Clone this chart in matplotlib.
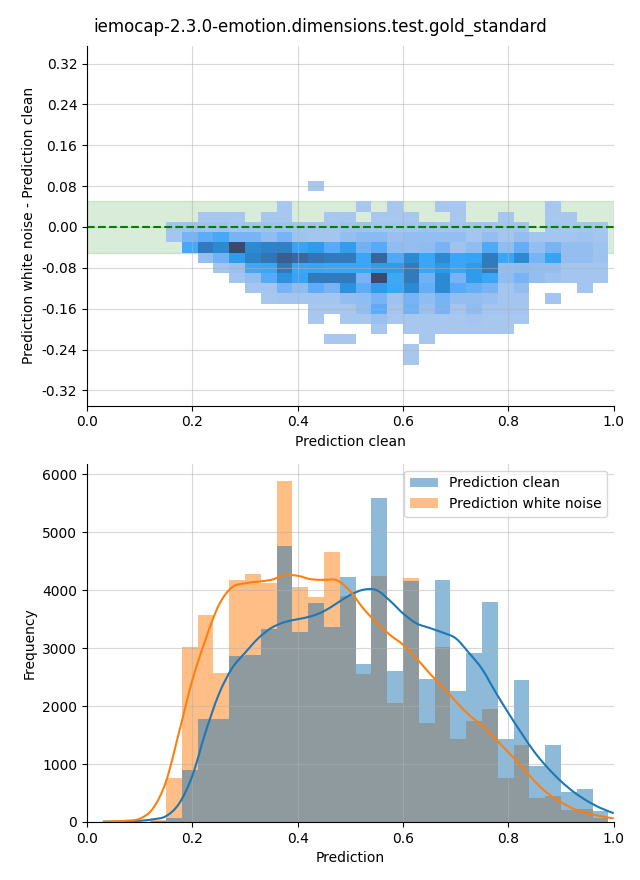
import numpy as np
import matplotlib
matplotlib.use("Agg")
import matplotlib.pyplot as plt
from matplotlib.colors import LinearSegmentedColormap
from matplotlib.path import Path
from matplotlib.patches import PathPatch

title = "iemocap-2.3.0-emotion.dimensions.test.gold_standard"

# ---- top: 2d histogram of (clean, white noise - clean) ----
# bins: x 0.15..0.99 step 0.03, y -0.27..0.09 step 0.02
x_edges = [round(0.15 + 0.03 * i, 2) for i in range(29)]
y_edges = [round(-0.27 + 0.02 * i, 2) for i in range(19)]

# counts (relative), rows from top (0.07..0.09) to bottom (-0.27..-0.25)
diff_counts = [
    [0, 0, 0, 0, 0, 0, 0, 0, 0, 2, 0, 0, 0, 0, 0, 0, 0, 0, 0, 0, 0, 0, 0, 0, 0, 0, 0, 0],
    [0, 0, 0, 0, 0, 0, 0, 0, 0, 0, 0, 0, 0, 0, 0, 0, 0, 0, 0, 0, 0, 0, 0, 0, 0, 0, 0, 0],
    [0, 0, 0, 0, 0, 0, 0, 2, 0, 0, 0, 0, 2, 0, 2, 0, 0, 2, 2, 0, 0, 0, 0, 0, 2, 0, 0, 0],
    [0, 0, 2, 2, 2, 0, 2, 2, 0, 0, 2, 2, 0, 2, 2, 2, 0, 0, 2, 0, 0, 2, 0, 0, 2, 2, 0, 0],
    [4, 6, 6, 6, 4, 4, 6, 6, 4, 4, 4, 6, 6, 4, 4, 4, 6, 4, 4, 4, 4, 4, 4, 0, 4, 2, 4, 2],
    [4, 20, 28, 34, 20, 20, 12, 20, 6, 4, 4, 10, 14, 14, 8, 10, 10, 10, 10, 4, 10, 4, 10, 4, 4, 4, 6, 4],
    [0, 34, 66, 55, 100, 55, 60, 62, 40, 45, 30, 44, 22, 30, 12, 10, 12, 20, 6, 12, 32, 12, 26, 10, 20, 10, 10, 6],
    [0, 0, 10, 22, 45, 60, 70, 85, 78, 70, 66, 66, 38, 80, 32, 55, 38, 55, 38, 40, 66, 38, 55, 20, 40, 10, 10, 6],
    [0, 0, 0, 4, 8, 36, 38, 68, 38, 40, 38, 38, 38, 45, 45, 66, 38, 47, 38, 45, 66, 10, 12, 10, 10, 4, 4, 4],
    [0, 0, 0, 0, 4, 10, 30, 50, 40, 66, 66, 66, 20, 100, 36, 66, 22, 55, 20, 45, 38, 12, 20, 10, 6, 4, 4, 4],
    [0, 0, 0, 0, 0, 4, 4, 20, 12, 28, 20, 50, 28, 45, 38, 55, 26, 55, 30, 25, 20, 4, 10, 0, 0, 0, 4, 0],
    [0, 0, 0, 0, 0, 0, 2, 4, 4, 4, 4, 10, 12, 20, 6, 20, 12, 20, 10, 10, 8, 4, 4, 0, 4, 0, 0, 0],
    [0, 0, 0, 0, 0, 0, 0, 0, 0, 2, 2, 2, 10, 28, 4, 22, 8, 20, 4, 12, 4, 4, 4, 0, 0, 0, 0, 0],
    [0, 0, 0, 0, 0, 0, 0, 0, 0, 2, 0, 2, 2, 8, 2, 2, 2, 2, 2, 4, 2, 2, 2, 0, 0, 0, 0, 0],
    [0, 0, 0, 0, 0, 0, 0, 0, 0, 0, 0, 0, 0, 2, 0, 2, 2, 2, 2, 2, 2, 2, 0, 0, 0, 0, 0, 0],
    [0, 0, 0, 0, 0, 0, 0, 0, 0, 0, 2, 2, 0, 0, 0, 0, 2, 0, 0, 0, 0, 0, 0, 0, 0, 0, 0, 0],
    [0, 0, 0, 0, 0, 0, 0, 0, 0, 0, 0, 0, 0, 0, 0, 2, 0, 0, 0, 0, 0, 0, 0, 0, 0, 0, 0, 0],
    [0, 0, 0, 0, 0, 0, 0, 0, 0, 0, 0, 0, 0, 0, 0, 2, 0, 0, 0, 0, 0, 0, 0, 0, 0, 0, 0, 0],
]
y_ticks = [-0.32, -0.24, -0.16, -0.08, 0.0, 0.08, 0.16, 0.24, 0.32]

# ---- bottom: histograms + kde ----
bin_edges = [round(0.03 + 0.03 * i, 2) for i in range(33)]
hist_clean = [0, 0, 5, 10, 70, 900, 1780, 1780, 2870, 2890, 3330, 4760, 3280, 3780, 3370, 4230,
              2730, 5590, 2610, 4160, 2470, 4180, 2260, 2920, 3800, 1440, 2450, 970, 1330, 510, 560, 180]
hist_noise = [15, 5, 5, 30, 750, 3020, 3570, 2580, 4180, 4280, 4130, 5890, 4060, 3890, 4660, 3900,
              2560, 4250, 2060, 4210, 1710, 3020, 1440, 1750, 1950, 760, 1320, 420, 450, 200, 230, 75]

kde_x = [0.03, 0.05, 0.075, 0.1, 0.125, 0.15, 0.175, 0.2, 0.225, 0.25, 0.275, 0.3, 0.325, 0.35,
         0.375, 0.4, 0.425, 0.45, 0.475, 0.5, 0.525, 0.55, 0.575, 0.6, 0.625, 0.65, 0.675, 0.7,
         0.725, 0.75, 0.775, 0.8, 0.825, 0.85, 0.875, 0.9, 0.925, 0.95, 0.975, 1.0]
kde_clean = [3, 6, 10, 20, 45, 100, 320, 800, 1550, 2200, 2650, 2920, 3170, 3350, 3450, 3500,
             3550, 3640, 3780, 3920, 4010, 4000, 3820, 3600, 3430, 3350, 3270, 3170, 2920, 2640,
             2250, 1880, 1530, 1200, 930, 700, 510, 360, 240, 150]
kde_noise = [5, 8, 20, 55, 230, 700, 1560, 2450, 3150, 3740, 4050, 4120, 4150, 4180, 4260, 4250,
             4190, 4180, 4170, 3980, 3680, 3440, 3230, 3060, 2830, 2570, 2330, 2080, 1850, 1660,
             1440, 1200, 960, 700, 490, 340, 220, 150, 100, 60]

# light -> saturated -> dark blue ramp
cmap = LinearSegmentedColormap.from_list("blues_ramp", [
    (0.00, "#acc9ee"), (0.10, "#94bef0"), (0.20, "#78b4f5"), (0.30, "#55aaf7"),
    (0.38, "#3aa6f7"), (0.47, "#2c98e8"), (0.56, "#2c88d0"), (0.68, "#3278b8"),
    (0.84, "#3a6090"), (1.00, "#3b4a68")])


def smooth_path(xs, ys):
    # cubic bezier through the points (catmull-rom control points)
    p = np.column_stack([xs, ys]).astype(float)
    verts = [p[0]]
    codes = [Path.MOVETO]
    for i in range(len(p) - 1):
        p0 = p[i - 1] if i > 0 else p[i]
        p3 = p[i + 2] if i + 2 < len(p) else p[i + 1]
        c1 = p[i] + (p[i + 1] - p0) / 6
        c2 = p[i + 1] - (p3 - p[i]) / 6
        verts += [c1, c2, p[i + 1]]
        codes += [Path.CURVE4] * 3
    return Path(verts, codes)


fig = plt.figure(figsize=(6.4, 8.8), dpi=100)
ax1 = fig.add_axes([0.136, 0.539, 0.823, 0.409])
ax2 = fig.add_axes([0.136, 0.066, 0.823, 0.407])
fig.suptitle(title, fontsize=12)

# top
counts = np.ma.masked_equal(np.array(diff_counts)[::-1], 0)
ax1.axhspan(-0.05, 0.05, color="green", alpha=0.15)
ax1.pcolormesh(x_edges, y_edges, counts, cmap=cmap, vmin=0, vmax=100)
ax1.axhline(0, color="green", linestyle="--", linewidth=1.5)
ax1.set_xlim(0, 1)
ax1.set_ylim(-0.35, 0.355)
ax1.set_yticks(y_ticks)
ax1.yaxis.set_major_formatter(plt.FormatStrFormatter("%.2f"))
ax1.grid(alpha=0.5)
ax1.set_xlabel("Prediction clean")
ax1.set_ylabel("Prediction white noise - Prediction clean")
ax1.spines[["top", "right"]].set_visible(False)

# bottom
h_noise = ax2.stairs(hist_noise, bin_edges, fill=True, color="C1", alpha=0.5,
                     label="Prediction white noise")
h_clean = ax2.stairs(hist_clean, bin_edges, fill=True, color="C0", alpha=0.5,
                     label="Prediction clean")
for ys, c in [(kde_clean, "C0"), (kde_noise, "C1")]:
    ax2.add_patch(PathPatch(smooth_path(kde_x, ys), facecolor="none", edgecolor=c,
                            linewidth=1.5, zorder=2))
ax2.set_xlim(0, 1)
ax2.set_ylim(0, max(hist_noise) * 1.05)
ax2.grid(alpha=0.5)
ax2.set_xlabel("Prediction")
ax2.set_ylabel("Frequency")
ax2.legend(handles=[h_clean, h_noise], loc="upper right")
ax2.spines[["top", "right"]].set_visible(False)

fig.savefig("out.png", dpi=100)
